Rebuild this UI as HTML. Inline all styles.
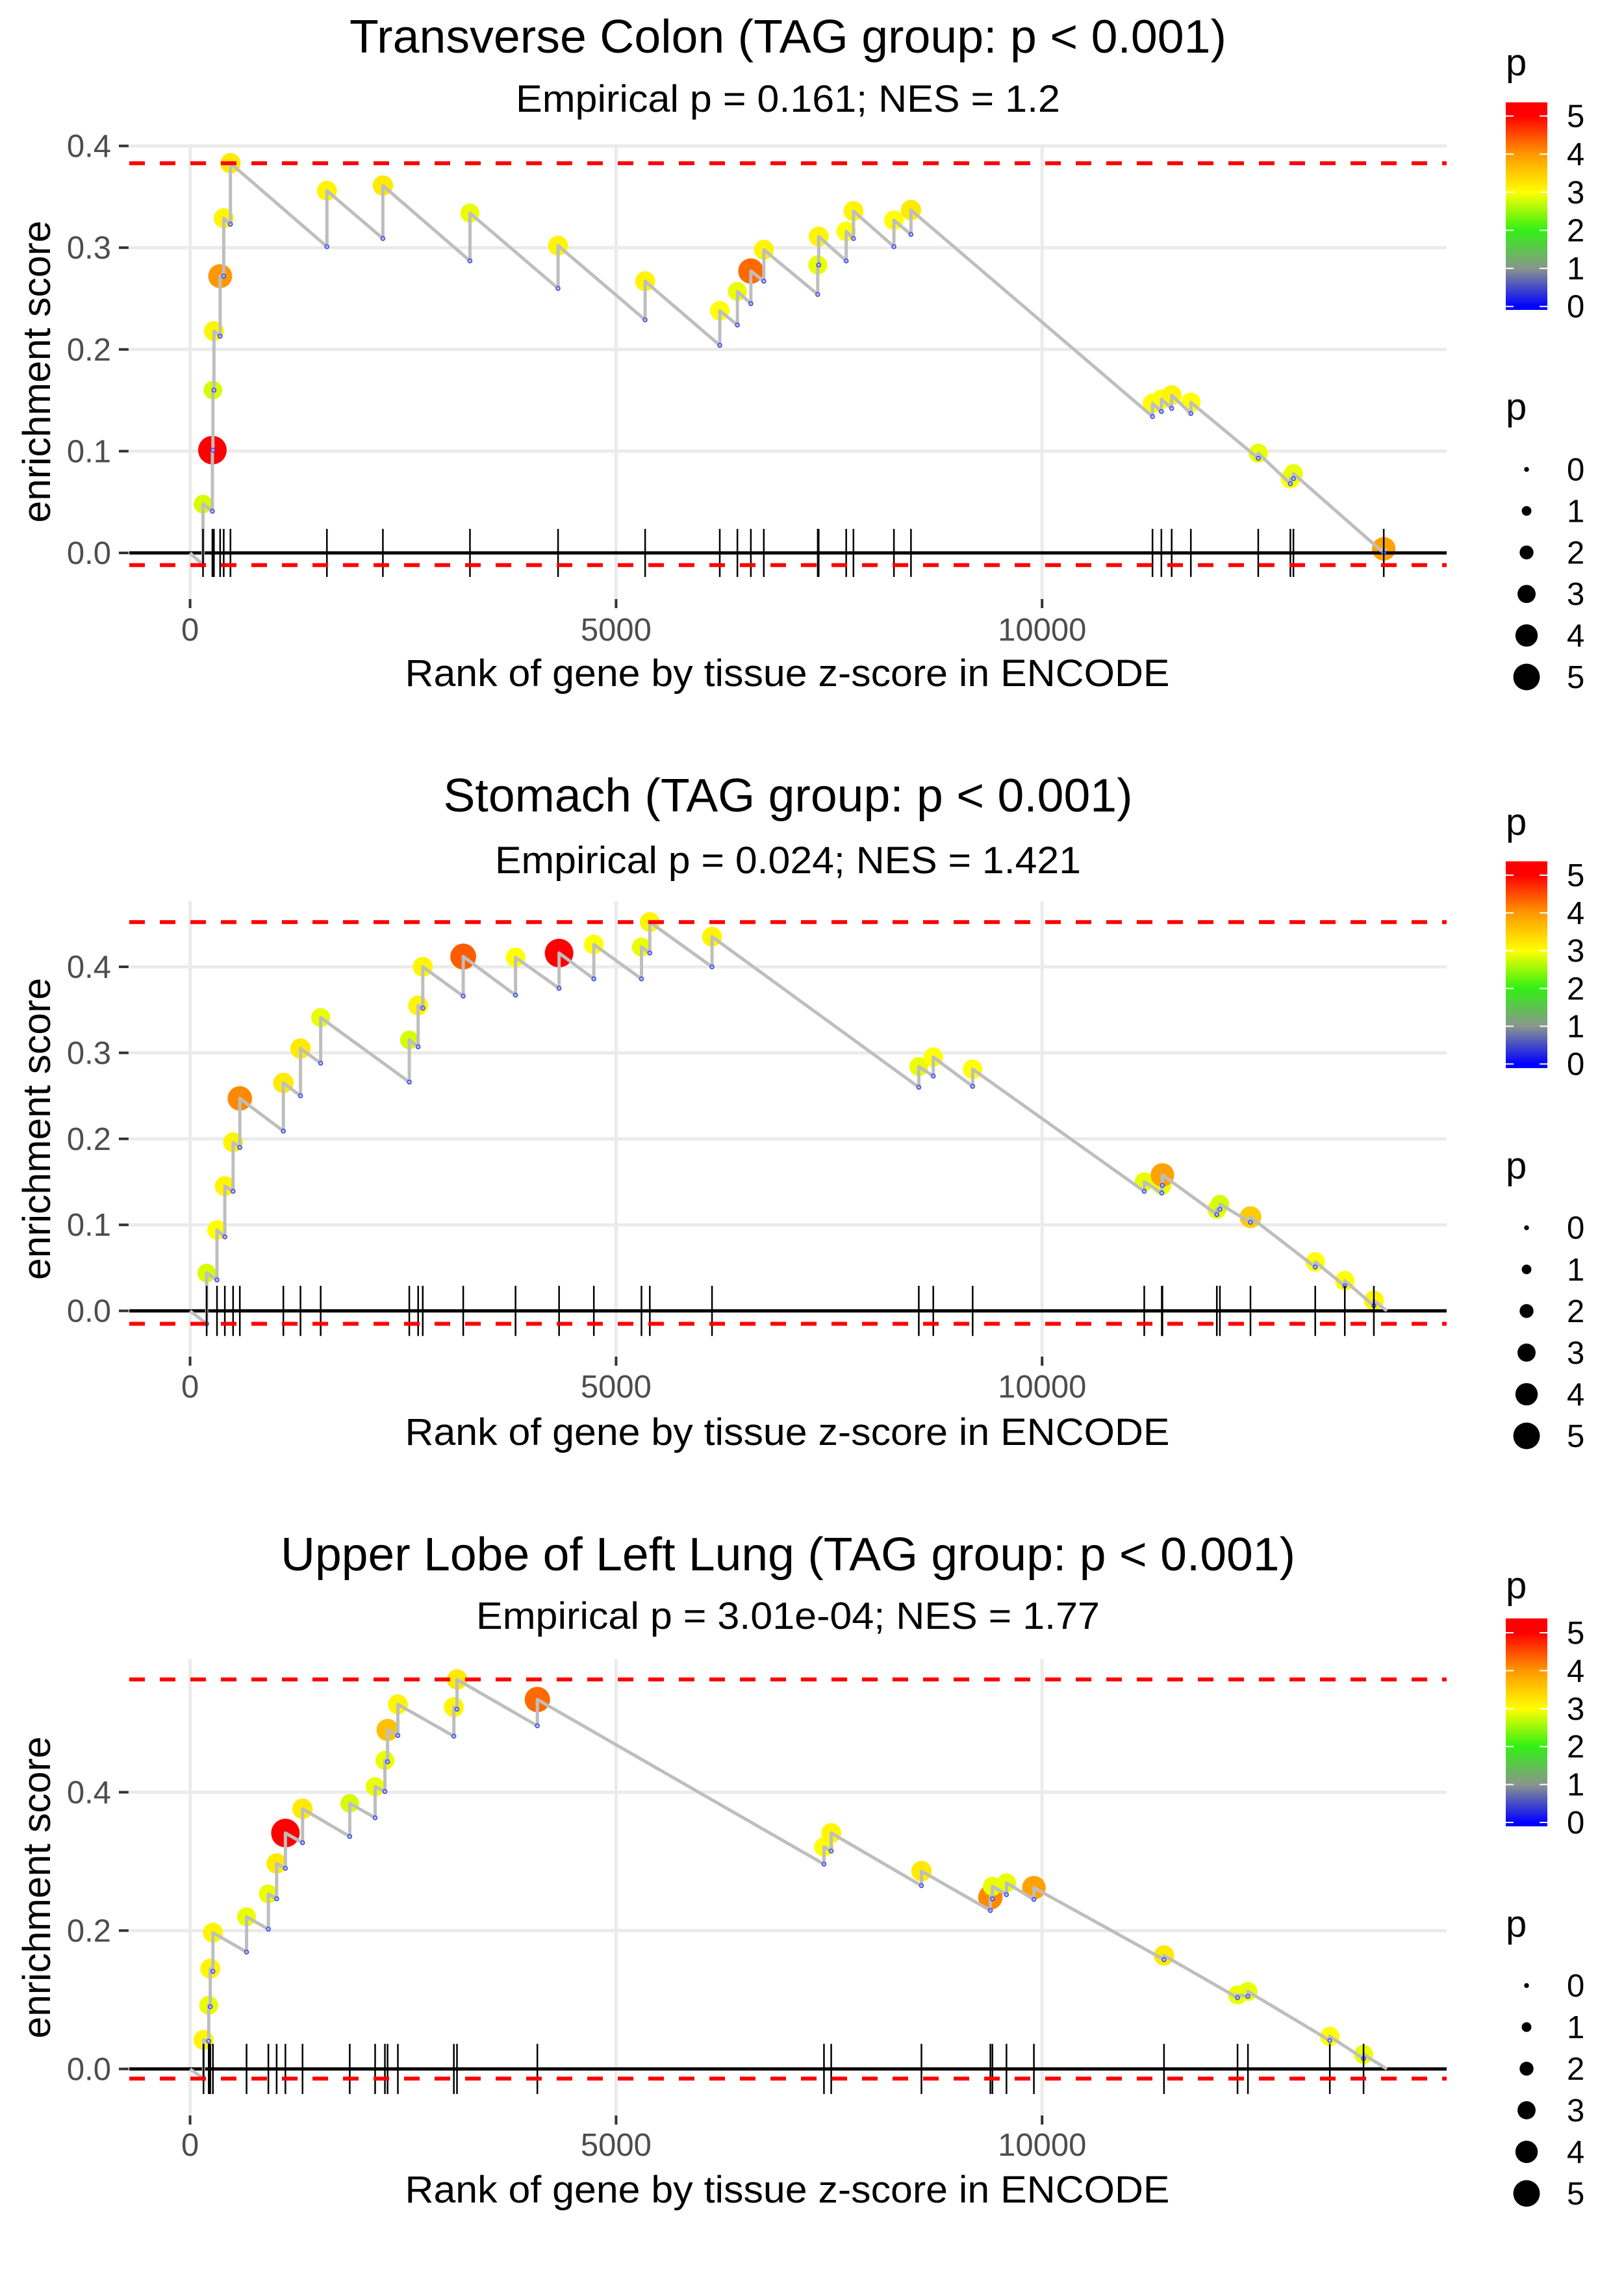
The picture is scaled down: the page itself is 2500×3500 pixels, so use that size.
<!DOCTYPE html>
<html><head><meta charset="utf-8"><title>Enrichment plots</title>
<style>html,body{margin:0;padding:0;background:#fff}svg{display:block}text{font-family:"Liberation Sans",sans-serif}</style>
</head><body>
<svg id="fig" xmlns="http://www.w3.org/2000/svg" width="2500" height="3500" viewBox="0 0 2500 3500"></svg>
<script>
// ---------- data ----------
const colonRanks=[152,262,268,280,353,395,474,1606,2263,3285,4319,5341,6217,6424,6582,6734,7367,7378,7701,7786,8261,8461,11296,11400,11521,11746,12537,12914,12950,14010];
const colonTop=[0.048,0.101,0.160,0.218,0.272,0.329,0.383,0.356,0.361,0.334,0.302,0.267,0.238,0.257,0.277,0.298,0.283,0.311,0.316,0.336,0.327,0.337,0.147,0.151,0.155,0.148,0.098,0.073,0.078,0.004];
const colonBefore=[-0.012,0.041,0.101,0.160,0.213,0.272,0.323,0.301,0.309,0.287,0.260,0.229,0.204,0.224,0.245,0.267,0.254,0.283,0.287,0.309,0.301,0.313,0.134,0.139,0.142,0.137,0.093,0.068,0.073,0.000];
const colonP=[2.8,5,2.8,3.1,4.0,3.1,3.2,3.1,3.2,2.9,3.1,3.1,3.0,2.9,4.3,3.1,2.9,3.1,3.0,3.1,3.0,3.2,3.0,3.0,3.1,3.0,2.9,3.0,2.9,3.9];
const colonEnd=[14040,0.002];

const stomachRanks=[195,316,408,505,584,1095,1296,1533,2573,2677,2731,3206,3820,4331,4739,5298,5396,6126,8553,8723,9185,11199,11405,11412,12051,12087,12446,13206,13553,13894];
const stomachTop=[0.044,0.094,0.145,0.196,0.247,0.265,0.305,0.341,0.315,0.355,0.400,0.412,0.411,0.416,0.426,0.423,0.452,0.435,0.284,0.295,0.281,0.150,0.146,0.158,0.118,0.124,0.109,0.057,0.035,0.012];
const stomachBefore=[-0.015,0.036,0.086,0.139,0.190,0.209,0.250,0.288,0.266,0.307,0.352,0.366,0.367,0.375,0.386,0.386,0.416,0.400,0.260,0.273,0.261,0.139,0.137,0.146,0.112,0.118,0.103,0.051,0.029,0.006];
const stomachP=[2.8,3.0,3.1,3.1,4.1,3.2,3.2,2.9,2.8,3.1,3.1,4.4,3.0,5,3.0,2.9,3.1,3.1,2.9,3.0,3.0,2.9,2.9,3.9,2.9,2.8,3.5,3.0,3.0,3.1];
const stomachEnd=[14046,0];

const lungRanks=[158,219,237,268,663,919,1016,1119,1320,1874,2172,2287,2318,2439,3096,3133,4076,7440,7525,8584,9393,9417,9582,9904,11431,12294,12416,13377,13773];
const lungTop=[0.042,0.092,0.145,0.197,0.220,0.253,0.297,0.341,0.376,0.384,0.408,0.446,0.490,0.527,0.523,0.563,0.534,0.321,0.341,0.286,0.248,0.264,0.269,0.262,0.164,0.107,0.112,0.047,0.021];
const lungBefore=[-0.014,0.040,0.090,0.141,0.169,0.202,0.246,0.290,0.327,0.336,0.363,0.401,0.444,0.482,0.481,0.520,0.496,0.296,0.315,0.265,0.229,0.246,0.252,0.245,0.158,0.103,0.105,0.041,0.015];
const lungP=[3.1,2.9,3.1,3.1,2.9,2.9,3.2,5,3.2,2.8,2.9,2.9,3.6,3.1,3.1,3.2,4.3,3.0,3.1,3.2,4.1,2.9,2.9,3.9,3.2,2.9,2.9,3.0,2.9];
const lungEnd=[14046,0];

const xTicks=[0,5000,10000];
const xTickLabels=["0","5000","10000"];
const colonYTicks=[0,0.1,0.2,0.3,0.4];
const stomachYTicks=[0,0.1,0.2,0.3,0.4];
const lungYTicks=[0,0.2,0.4];
const legendValues=[0,1,2,3,4,5];
const legendRadii=[4,8,11.5,15,18.5,22];

const colonTitle="Transverse Colon (TAG group: p < 0.001)";
const colonSub="Empirical p = 0.161; NES = 1.2";
const stomachTitle="Stomach (TAG group: p < 0.001)";
const stomachSub="Empirical p = 0.024; NES = 1.421";
const lungTitle="Upper Lobe of Left Lung (TAG group: p < 0.001)";
const lungSub="Empirical p = 3.01e-04; NES = 1.77";

// ---------- layout ----------
const NS="http://www.w3.org/2000/svg";
const svg=document.getElementById('fig');
function el(tag,attrs,parent,txt){const e=document.createElementNS(NS,tag);for(const k in attrs)e.setAttribute(k,attrs[k]);if(txt!==undefined)e.textContent=txt;(parent||svg).appendChild(e);return e;}

const X0=292.6, XK=0.13116, PL=199, PR=2227;
function xs(r){return X0+r*XK;}

const colStops=[[0,[0,0,255]],[1,[138,150,140]],[2,[50,240,20]],[3,[255,255,0]],[4,[255,152,0]],[5,[255,0,0]]];
function pcol(p){p=Math.max(0,Math.min(5,p));const i=Math.min(4,Math.floor(p));const t=p-i;const a=colStops[i][1],b=colStops[i+1][1];
  return 'rgb('+a.map((v,k)=>Math.round(v+(b[k]-v)*t)).join(',')+')';}
function prad(p){p=Math.max(0,Math.min(5,p));const i=Math.min(4,Math.floor(p));const t=p-i;return legendRadii[i]+(legendRadii[i+1]-legendRadii[i])*t;}

const panels=[
 {key:'colon',ranks:colonRanks,top:colonTop,before:colonBefore,p:colonP,end:colonEnd,yt:colonYTicks,title:colonTitle,sub:colonSub,
  y0:851,yk:1566,ptop:222,pbot:922,titleY:81,titleW:1350,subY:172,subW:838,xtY:986,xtitleY:1056,rug:37,
  cbTitleY:116,cbTop:157.5,cbBot:477,cb5:178.6,cb0:471.7,szTitleY:646,sz0:722.5,sz5:1042},
 {key:'stomach',ranks:stomachRanks,top:stomachTop,before:stomachBefore,p:stomachP,end:stomachEnd,yt:stomachYTicks,title:stomachTitle,sub:stomachSub,
  y0:2017.6,yk:1323.8,ptop:1387,pbot:2088,titleY:1249,titleW:1061,subY:1344,subW:902,xtY:2151,xtitleY:2224,rug:38.6,
  cbTitleY:1285,cbTop:1325.7,cbBot:1644,cb5:1347,cb0:1637.6,szTitleY:1814,sz0:1889.7,sz5:2210},
 {key:'lung',ranks:lungRanks,top:lungTop,before:lungBefore,p:lungP,end:lungEnd,yt:lungYTicks,title:lungTitle,sub:lungSub,
  y0:3184.4,yk:1064.8,ptop:2554,pbot:3256,titleY:2417,titleW:1562,subY:2507,subW:960,xtY:3318,xtitleY:3390,rug:38.6,
  cbTitleY:2460,cbTop:2491,cbBot:2811,cb5:2513,cb0:2805,szTitleY:2981,sz0:3056,sz5:3376}
];

const defs=el('defs',{});
panels.forEach(P=>{
  const g=el('linearGradient',{id:'grad-'+P.key,x1:0,y1:1,x2:0,y2:0},defs);
  const per=(P.cb0-P.cb5)/5;
  for(let v=0;v<=5;v+=0.25){
    const y=P.cb0-v*per; const off=(P.cbBot-y)/(P.cbBot-P.cbTop);
    el('stop',{offset:Math.max(0,Math.min(1,off)),'stop-color':pcol(v)},g);
  }
});

panels.forEach(P=>{
  const ys=v=>P.y0-v*P.yk;
  const G=el('g',{});
  
  
  P.yt.forEach(v=>{
    const l=el('line',{x1:PL,x2:PR,y1:ys(v),y2:ys(v),stroke:'#EBEBEB','stroke-width':5},G);
    
    
  });
  xTicks.forEach(v=>{
    const l=el('line',{x1:xs(v),x2:xs(v),y1:P.ptop,y2:P.pbot,stroke:'#EBEBEB','stroke-width':5},G);
    
    
  });
  P.yt.forEach(v=>{
    const t=el('line',{x1:183,x2:198,y1:ys(v),y2:ys(v),stroke:'#333','stroke-width':4},G);
    
    
    const tx=el('text',{x:171,y:ys(v)+17,'text-anchor':'end','font-size':49,fill:'#4D4D4D'},G,v.toFixed(1));
    
    
  });
  xTicks.forEach((v,i)=>{
    const t=el('line',{x1:xs(v),x2:xs(v),y1:P.pbot,y2:P.pbot+14,stroke:'#333','stroke-width':4},G);
    
    
    const tx=el('text',{x:xs(v),y:P.xtY,'text-anchor':'middle','font-size':49,fill:'#4D4D4D'},G,xTickLabels[i]);
    
    
  });
  P.ranks.forEach((r,i)=>{
    const c=el('circle',{cx:xs(r),cy:ys(P.top[i]),r:prad(P.p[i]),fill:pcol(P.p[i])},G);
    
    
  });
  const h0=el('line',{x1:PL,x2:PR,y1:ys(0),y2:ys(0),stroke:'#000','stroke-width':5},G);
  
  
  let d='M'+xs(0)+','+ys(0);
  P.ranks.forEach((r,i)=>{d+=' L'+xs(r)+','+ys(P.before[i])+' L'+xs(r)+','+ys(P.top[i]);});
  d+=' L'+xs(P.end[0])+','+ys(P.end[1]);
  const pl=el('path',{d:d,fill:'none',stroke:'#BEBEBE','stroke-width':5,'stroke-linejoin':'round'},G);
  
  
  P.ranks.forEach((r,i)=>{
    const c=el('circle',{cx:xs(r),cy:ys(P.before[i]),r:3,fill:'none',stroke:'#3344ff','stroke-width':1.5},G);
    
    
  });
  P.ranks.forEach(r=>{
    const t=el('line',{x1:xs(r),x2:xs(r),y1:ys(0)-P.rug,y2:ys(0)+P.rug,stroke:'#000','stroke-width':2.5},G);
    
    
  });
  const mx=Math.max(...P.top), mn=Math.min(...P.before);
  [mx,mn].forEach((v,k)=>{
    const l=el('line',{x1:PL,x2:PR,y1:ys(v),y2:ys(v),stroke:'#FF0000','stroke-width':6,'stroke-dasharray':'24,23'},G);
    
    
  });
  const ti=el('text',{x:1213,y:P.titleY,'text-anchor':'middle','font-size':72,fill:'#000',textLength:P.titleW,lengthAdjust:'spacingAndGlyphs'},G,P.title);
  
  
  const st=el('text',{x:1213,y:P.subY,'text-anchor':'middle','font-size':58,fill:'#000',textLength:P.subW,lengthAdjust:'spacingAndGlyphs'},G,P.sub);
  
  
  const xt=el('text',{x:1212,y:P.xtitleY,'text-anchor':'middle','font-size':58,fill:'#000',textLength:1177,lengthAdjust:'spacingAndGlyphs'},G,'Rank of gene by tissue z-score in ENCODE');
  
  
  const cy=(P.ptop+P.pbot)/2;
  const yt=el('text',{x:0,y:0,'text-anchor':'middle','font-size':60,fill:'#000',textLength:465,lengthAdjust:'spacingAndGlyphs',transform:'translate(77,'+cy+') rotate(-90)'},G,'enrichment score');
  
  
  const ct=el('text',{x:2318,y:P.cbTitleY,'font-size':58,fill:'#000'},G,'p');
  
  
  const bar=el('rect',{x:2318,y:P.cbTop,width:64,height:P.cbBot-P.cbTop,fill:'url(#grad-'+P.key+')'},G);
  
  
  const per=(P.cb0-P.cb5)/5;
  legendValues.forEach(v=>{
    const y=P.cb0-v*per;
    [[2318,2330],[2370,2382]].forEach(s=>{
      const t=el('line',{x1:s[0],x2:s[1],y1:y,y2:y,stroke:'#fff','stroke-width':2},G);
      
      
    });
    const tx=el('text',{x:2412,y:y+17,'font-size':49,fill:'#000'},G,String(v));
    
    
  });
  const szt=el('text',{x:2318,y:P.szTitleY,'font-size':58,fill:'#000'},G,'p');
  
  
  const step=(P.sz5-P.sz0)/5;
  legendValues.forEach((v,i)=>{
    const y=P.sz0+i*step;
    const c=el('circle',{cx:2350,cy:y,r:legendRadii[i]*0.93,fill:'#000'},G);
    
    
    const tx=el('text',{x:2412,y:y+17,'font-size':49,fill:'#000'},G,String(v));
    
    
  });
});
</script>
</body></html>
